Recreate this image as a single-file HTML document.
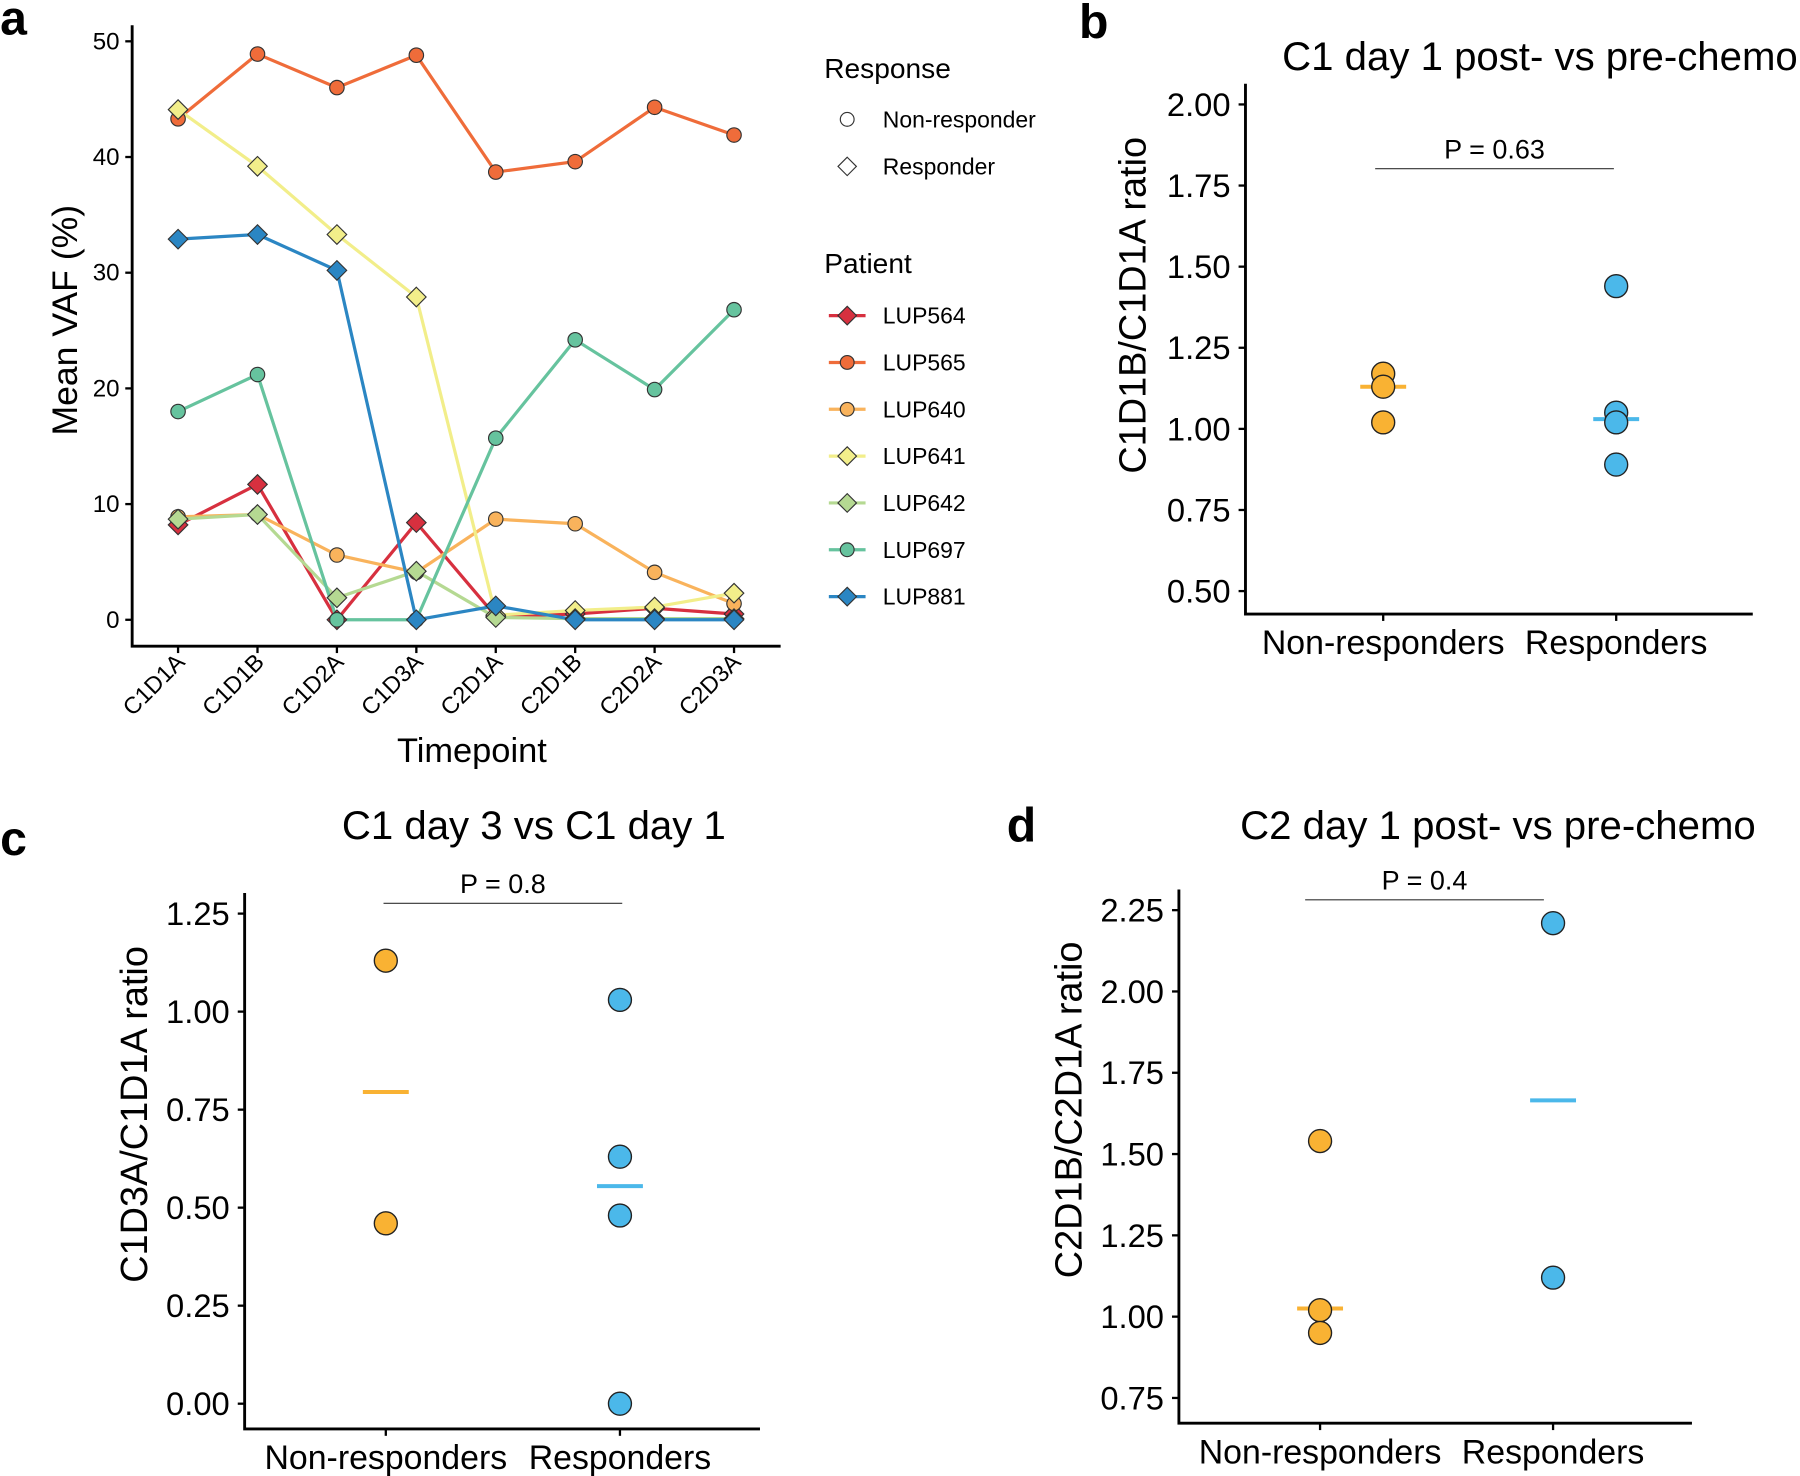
<!DOCTYPE html>
<html><head><meta charset="utf-8"><style>
html,body{margin:0;padding:0;background:#fff}
svg{display:block;font-family:"Liberation Sans",sans-serif}
</style></head><body>
<svg id="s" width="1800" height="1476" viewBox="0 0 1568 1286" xmlns="http://www.w3.org/2000/svg">
<g id="pa"></g>
<g id="pb"></g>
<g id="pc"></g>
<g id="pd"></g>
</svg>
<script>
const timepoints=["C1D1A","C1D1B","C1D2A","C1D3A","C2D1A","C2D1B","C2D2A","C2D3A"];
const patients=["LUP564","LUP565","LUP640","LUP641","LUP642","LUP697","LUP881"];
const vaf564=[8.2,11.7,0,8.4,0.3,0.5,1.0,0.5];
const vaf565=[43.3,48.9,46.0,48.8,38.7,39.6,44.3,41.9];
const vaf640=[8.9,9.1,5.6,4.1,8.7,8.3,4.1,1.4];
const vaf641=[44.1,39.2,33.3,27.9,0.4,0.8,1.1,2.3];
const vaf642=[8.7,9.1,1.9,4.2,0.2,0.1,0.1,0.1];
const vaf697=[18.0,21.2,0,0,15.7,24.2,19.9,26.8];
const vaf881=[32.9,33.3,30.2,0,1.2,0,0,0];
const vafTicks=[0,10,20,30,40,50];
const bNon=[1.17,1.13,1.02], bResp=[1.44,1.05,1.02,0.89], bMed=[1.13,1.03], bTicks=[0.5,0.75,1.0,1.25,1.5,1.75,2.0], bP="P = 0.63";
const cNon=[1.13,0.46], cResp=[1.03,0.63,0.48,0.0], cMed=[0.795,0.555], cTicks=[0,0.25,0.5,0.75,1.0,1.25], cP="P = 0.8";
const dNon=[1.54,1.02,0.95], dResp=[2.21,1.12], dMed=[1.025,1.665], dTicks=[0.75,1.0,1.25,1.5,1.75,2.0,2.25], dP="P = 0.4";
const NS="http://www.w3.org/2000/svg";
function mk(p,t,a,txt){const e=document.createElementNS(NS,t);for(const k in a)e.setAttribute(k,a[k]);if(txt!==undefined)e.textContent=txt;p.appendChild(e);return e;}
// Panel A
const pa=document.getElementById('pa');
const ax=i=>155+i*69.2, ay=v=>540-v*10.08;
const series=[vaf564,vaf565,vaf640,vaf641,vaf642,vaf697,vaf881];
const cols=["#d7303f","#ef6c3a","#f9b35c","#f2ee8a","#b5d992","#66c39e","#2b86c3"];
const shp=["d","c","c","d","d","c","d"];
let t=mk(pa,'text',{x:0,y:30,'font-size':42,'font-weight':'bold'},'a');

let l=mk(pa,'path',{d:'M115,22V563H680',stroke:'#000','stroke-width':2.5,fill:'none'});

vafTicks.forEach(v=>{mk(pa,'line',{x1:109,x2:115,y1:ay(v),y2:ay(v),stroke:'#000','stroke-width':2});
 t=mk(pa,'text',{x:104,y:ay(v)+7,'font-size':21,'text-anchor':'end'},v);
 });
timepoints.forEach((n,i)=>{mk(pa,'line',{x1:ax(i),x2:ax(i),y1:563,y2:569,stroke:'#000','stroke-width':2});
 t=mk(pa,'text',{x:ax(i)+7,y:578,'font-size':20.5,'text-anchor':'end',transform:`rotate(-45 ${ax(i)+7} 578)`},n);
 });
t=mk(pa,'text',{x:411,y:664,'font-size':30,'text-anchor':'middle'},'Timepoint');
t=mk(pa,'text',{x:67,y:279,'font-size':31,'text-anchor':'middle',transform:'rotate(-90 67 279)'},'Mean VAF (%)');
function marker(g,s,x,y,c,r){if(s=='c')return mk(g,'circle',{cx:x,cy:y,r:r,fill:c,stroke:'#333','stroke-width':1});
 return mk(g,'path',{d:`M${x},${y-r*1.35}L${x+r*1.35},${y}L${x},${y+r*1.35}L${x-r*1.35},${y}Z`,fill:c,stroke:'#333','stroke-width':1});}
series.forEach((s,k)=>{const g=mk(pa,'g',{});
 mk(g,'polyline',{points:s.map((v,i)=>ax(i)+','+ay(v)).join(' '),fill:'none',stroke:cols[k],'stroke-width':2.8});});
series.forEach((s,k)=>s.forEach((v,i)=>{const m=marker(pa,shp[k],ax(i),ay(v),cols[k],6.3);}));
// legend
const lg=mk(pa,'g',{});
mk(lg,'text',{x:718,y:68,'font-size':24.5},'Response');
mk(lg,'circle',{cx:738,cy:104,r:6,fill:'none',stroke:'#333'});mk(lg,'text',{x:769,y:111,'font-size':20},'Non-responder');
mk(lg,'path',{d:'M738,137L746,145L738,153L730,145Z',fill:'none',stroke:'#333'});mk(lg,'text',{x:769,y:152,'font-size':20},'Responder');
mk(lg,'text',{x:718,y:238,'font-size':24.5},'Patient');
patients.forEach((p,k)=>{const y=275+k*40.8;mk(lg,'line',{x1:722,x2:754,y1:y,y2:y,stroke:cols[k],'stroke-width':2.8});marker(lg,shp[k],738,y,cols[k],6);
 const e=mk(lg,'text',{x:769,y:y+7,'font-size':20},p);});
// dot panels
function dot(id,letter,lx,ly,title,tx,ty,anchor,x0,x1,yb,ticks,t0,p0,t1,p1,non,resp,med,cx,yt,yx,ym,pv,bx0,bx1,by){
 const g=document.getElementById(id);
 const sy=v=>p0+(v-t0)*(p1-p0)/(t1-t0);
 let e=mk(g,'text',{x:lx,y:ly,'font-size':42,'font-weight':'bold'},letter);
 e=mk(g,'text',{x:tx,y:ty,'font-size':35,'text-anchor':anchor},title);
 e=mk(g,'path',{d:`M${x0},${sy(ticks[ticks.length-1])-18}V${yb}H${x1}`,stroke:'#000','stroke-width':2.5,fill:'none'});
 ticks.forEach(v=>{mk(g,'line',{x1:x0-6,x2:x0,y1:sy(v),y2:sy(v),stroke:'#000','stroke-width':2});
  const q=mk(g,'text',{x:x0-13,y:sy(v)+10,'font-size':28.5,'text-anchor':'end'},v.toFixed(2));});
 ["Non-responders","Responders"].forEach((n,i)=>{mk(g,'line',{x1:cx[i],x2:cx[i],y1:yb,y2:yb+6,stroke:'#000','stroke-width':2});
  const q=mk(g,'text',{x:cx[i],y:yb+35,'font-size':29.5,'text-anchor':'middle'},n);});
 e=mk(g,'text',{x:yx,y:ym,'font-size':33,'text-anchor':'middle',transform:`rotate(-90 ${yx} ${ym})`},yt);
 mk(g,'line',{x1:bx0,x2:bx1,y1:by,y2:by,stroke:'#333','stroke-width':1});
 e=mk(g,'text',{x:(bx0+bx1)/2,y:by-9,'font-size':23.5,'text-anchor':'middle'},pv);
 [[non,'#f9b233'],[resp,'#4bb8ea']].forEach(([arr,c],i)=>{
  mk(g,'line',{x1:cx[i]-20,x2:cx[i]+20,y1:sy(med[i]),y2:sy(med[i]),stroke:c,'stroke-width':3.5});
  arr.forEach(v=>{const q=mk(g,'circle',{cx:cx[i],cy:sy(v),r:10,fill:c,stroke:'#222','stroke-width':1.2});});
 });
}
dot('pb','b',940,33,'C1 day 1 post- vs pre-chemo',1117,61,'start',1085,1527,535,bTicks,0.5,515,2.0,91,bNon,bResp,bMed,[1205,1408],'C1D1B/C1D1A ratio',998,266,bP,1198,1406,147);
dot('pc','c',0,745,'C1 day 3 vs C1 day 1',465,731,'middle',213,662,1245,cTicks,0,1223,1.25,796,cNon,cResp,cMed,[336,540],'C1D3A/C1D1A ratio',128,971,cP,334,542,787);
dot('pd','d',877,733,'C2 day 1 post- vs pre-chemo',1305,731,'middle',1027,1474,1240,dTicks,0.75,1218,2.25,793,dNon,dResp,dMed,[1150,1353],'C2D1B/C2D1A ratio',942,967,dP,1137,1345,784);
</script>
</body></html>
